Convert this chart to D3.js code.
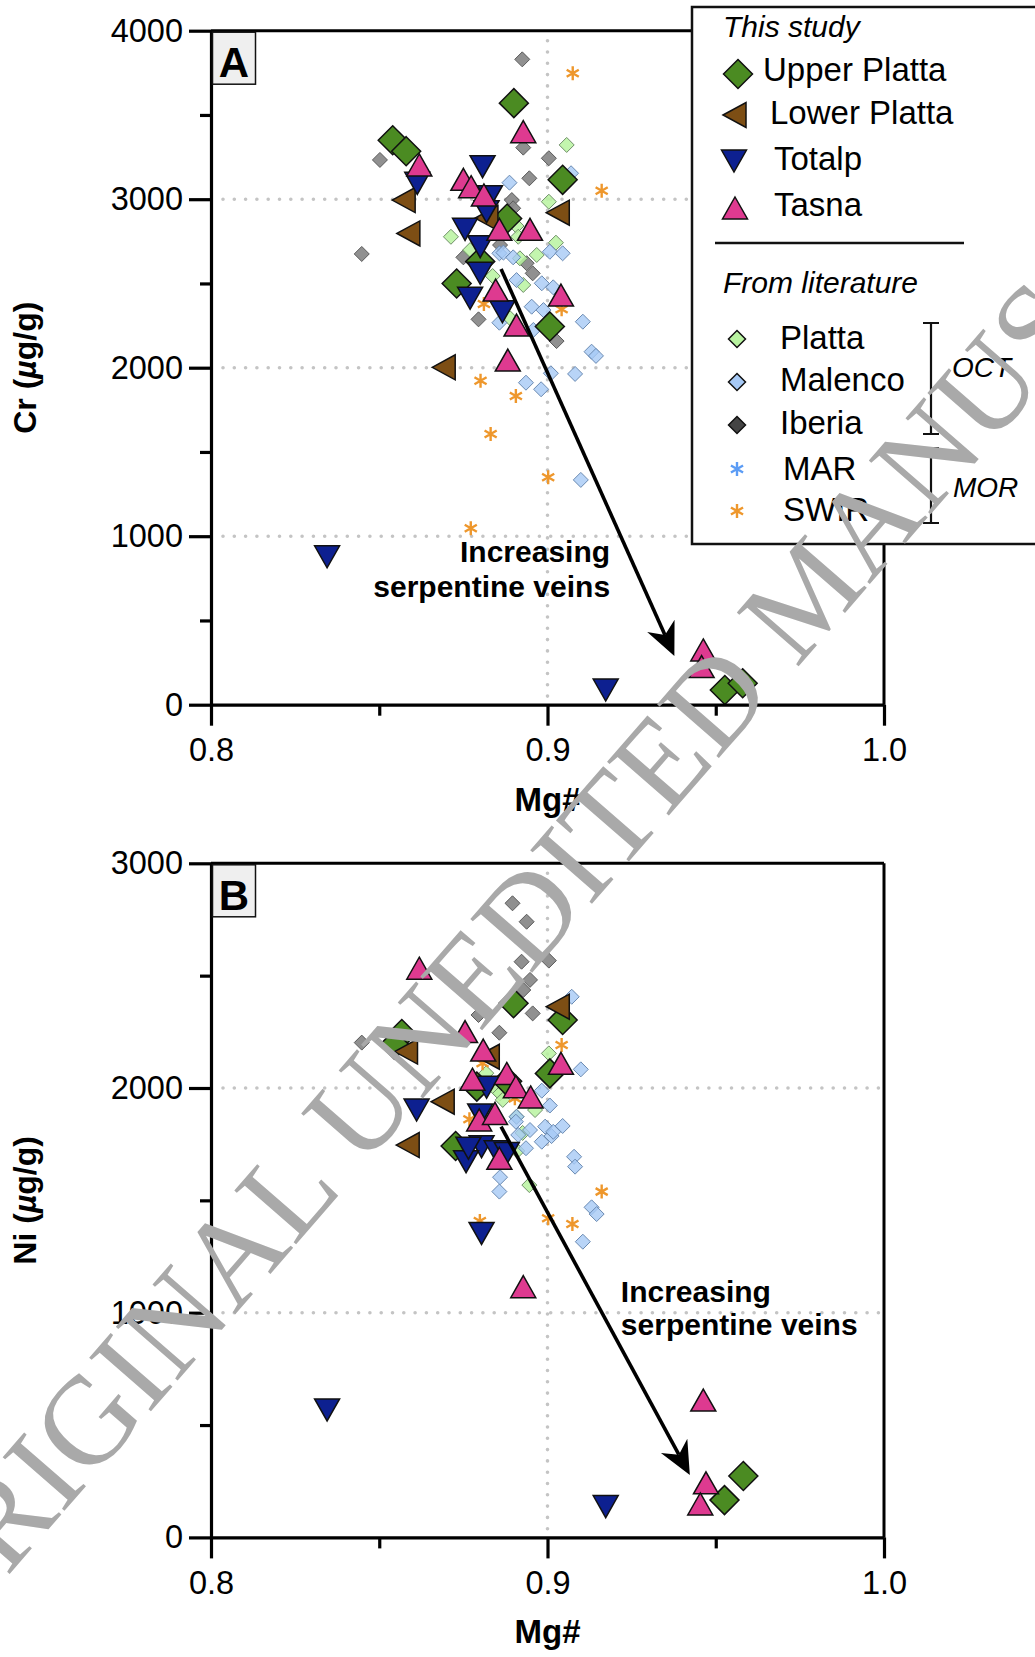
<!DOCTYPE html>
<html><head><meta charset="utf-8">
<script src="https://cdn.jsdelivr.net/npm/d3@7"></script>
<style>
body{margin:0;background:#fff}
svg{display:block}
text{font-family:"Liberation Sans",Arial,Helvetica,sans-serif}
text.wm{font-family:"Liberation Serif","Times New Roman",serif}
</style>
</head><body>
<svg id="c" width="1035" height="1657"></svg>
<script>
// ---------------- DATA ----------------
const mgTicks = [0.8, 0.9, 1.0];
const mgMinor = [0.85, 0.95];
const crTicks = [0, 1000, 2000, 3000, 4000];
const crMinor = [500, 1500, 2500, 3500];
const niTicks = [0, 1000, 2000, 3000];
const niMinor = [500, 1500, 2500];

// Panel A : Cr (µg/g) vs Mg#
const upperPlattaCr = [[0.854,3350],[0.858,3285],[0.890,3570],[0.9045,3115],[0.888,2885],[0.880,2630],[0.873,2500],[0.9007,2245],[0.9527,87],[0.958,127]];
const lowerPlattaCr = [[0.8574,2995],[0.8588,2797],[0.9032,2920],[0.882,2888],[0.8693,2002]];
const totalpCr = [[0.8807,3193],[0.8613,3094],[0.8829,3015],[0.8819,2926],[0.8755,2821],[0.880,2718],[0.880,2560],[0.877,2412],[0.8866,2332],[0.8345,878],[0.9173,87]];
const tasnaCr = [[0.8928,3401],[0.8619,3203],[0.875,3118],[0.8773,3074],[0.8811,3025],[0.8857,2821],[0.8948,2821],[0.8846,2461],[0.904,2431],[0.8908,2253],[0.8882,2045],[0.9463,325],[0.9458,226]];
const plattaCr = [[0.9057,3322],[0.9004,2985],[0.8713,2777],[0.877,2698],[0.8908,2841],[0.9025,2742],[0.8968,2669],[0.8918,2649],[0.8837,2544],[0.8928,2491],[0.8889,2293],[0.8913,2777]];
const malencoCr = [[0.8887,3098],[0.907,3154],[0.9007,2688],[0.9045,2679],[0.8857,2679],[0.8869,2683],[0.8898,2655],[0.8908,2520],[0.8983,2501],[0.9017,2477],[0.8953,2362],[0.8988,2342],[0.8857,2267],[0.8958,2224],[0.9105,2273],[0.9131,2095],[0.9144,2070],[0.901,1967],[0.9082,1963],[0.8936,1911],[0.8981,1872],[0.9099,1334]];
const iberiaCr = [[0.8925,3830],[0.8502,3233],[0.8928,3306],[0.9004,3243],[0.8946,3124],[0.8894,2995],[0.8898,2946],[0.8448,2675],[0.875,2655],[0.8859,2728],[0.8938,2620],[0.8956,2560],[0.8795,2287],[0.9027,2158]];
const marCr = [];
const swirCr = [[0.9075,3747],[0.9161,3050],[0.8811,2378],[0.9042,2347],[0.8801,1923],[0.8906,1832],[0.8831,1607],[0.9002,1350],[0.8772,1047]];
const arrowCr = [[0.8862,2586],[0.9377,289]];

// Panel B : Ni (µg/g) vs Mg#
const upperPlattaNi = [[0.8567,2240],[0.8545,2193],[0.8899,2377],[0.9045,2303],[0.9007,2065],[0.888,2030],[0.879,2006],[0.8727,1742],[0.9526,166],[0.9582,273]];
const lowerPlattaNi = [[0.8581,2162],[0.869,1939],[0.8586,1746],[0.9032,2362],[0.8824,2139]];
const totalpNi = [[0.8611,1902],[0.8819,2003],[0.880,1880],[0.8804,1739],[0.8758,1672],[0.8849,1716],[0.8879,1709],[0.8765,1732],[0.8804,1353],[0.8345,567],[0.9173,137]];
const tasnaNi = [[0.8619,2533],[0.8755,2251],[0.8809,2169],[0.8777,2039],[0.8879,2065],[0.8906,2006],[0.904,2110],[0.895,1960],[0.8797,1858],[0.8844,1887],[0.8857,1687],[0.8928,1116],[0.9463,611],[0.9471,243],[0.9454,149]];
const plattaNi = [[0.9004,2154],[0.8818,2066],[0.8849,1991],[0.8859,1976],[0.8867,1947],[0.8963,1902],[0.8908,1872],[0.8926,1800],[0.8946,1568],[0.891,1720]];
const malencoNi = [[0.9072,2406],[0.9099,2083],[0.8983,1988],[0.9007,1922],[0.8908,1872],[0.8948,1813],[0.8993,1828],[0.9045,1831],[0.8913,1791],[0.8983,1761],[0.9012,1786],[0.8936,1732],[0.9079,1694],[0.9082,1650],[0.8859,1603],[0.8857,1539],[0.9131,1469],[0.9146,1439],[0.9105,1316],[0.8906,1850],[0.9017,1805]];
const iberiaNi = [[0.8896,2822],[0.8938,2740],[0.8923,2562],[0.9004,2567],[0.8948,2481],[0.8928,2436],[0.8956,2332],[0.8795,2325],[0.8857,2246],[0.8448,2202]];
const marNi = [];
const swirNi = [[0.9042,2191],[0.8807,2110],[0.8768,1861],[0.8903,1954],[0.9161,1539],[0.9074,1395],[0.9002,1420],[0.8799,1408]];
const arrowNi = [[0.8862,1828],[0.9423,278]];

const legendStudy = ["Upper Platta","Lower Platta","Totalp","Tasna"];
const legendLit = ["Platta","Malenco","Iberia","MAR","SWIR"];

// ---------------- STYLE / LAYOUT ----------------
const svg = d3.select("#c");
const x = d3.scaleLinear().domain([0.8, 1.0]).range([211, 884]);
const yCr = d3.scaleLinear().domain([0, 4000]).range([704.7, 30.7]);
const yNi = d3.scaleLinear().domain([0, 3000]).range([1537.4, 863.3]);

const diamond = r => `M0,${-r}L${r},0L0,${r}L${-r},0Z`;
const triUp = `M0,-11L12.5,11L-12.5,11Z`;
const triDown = `M-12.5,-11L12.5,-11L0,11Z`;
const triLeft = `M-12,0L11,-12.5L11,12.5Z`;
const aster = r => { const a = r*Math.cos(Math.PI/6), b = r/2;
  return `M0,${-r}L0,${r}M${-a},${-b}L${a},${b}M${-a},${b}L${a},${-b}`; };

const st = {
  up:  {d: diamond(14.5), fill:"#4b8b22", stroke:"#111", sw:1.5},
  lp:  {d: triLeft, fill:"#7d4e14", stroke:"#111", sw:1.5},
  to:  {d: triDown, fill:"#0d2090", stroke:"#111", sw:1.5},
  ta:  {d: triUp, fill:"#de3a90", stroke:"#111", sw:1.5},
  pl:  {d: diamond(7.5), fill:"#b8f3a0", stroke:"#6f8f68", sw:1, op:0.85},
  ma:  {d: diamond(7.5), fill:"#a6c9f5", stroke:"#6a8ab2", sw:1, op:0.8},
  ib:  {d: diamond(7.5), fill:"#8a8a8a", stroke:"#5a5a5a", sw:1, op:0.95},
  mar: {d: aster(7), fill:"none", stroke:"#5b9cf5", sw:2.4},
  sw:  {d: aster(7), fill:"none", stroke:"#ee972c", sw:2.4}
};

function marks(g, data, s, y) {
  g.append("g").selectAll("path").data(data).join("path")
    .attr("d", s.d)
    .attr("transform", d => `translate(${x(d[0])},${y(d[1])})`)
    .attr("fill", s.fill)
    .attr("fill-opacity", s.op || 1)
    .attr("stroke", s.stroke)
    .attr("stroke-width", s.sw);
}

function dotted(g, x1, y1, x2, y2) {
  g.append("line").attr("x1", x1).attr("y1", y1).attr("x2", x2).attr("y2", y2)
    .attr("stroke", "#c4c4c4").attr("stroke-width", 3.6)
    .attr("stroke-linecap", "round").attr("stroke-dasharray", "0 11.3");
}

function panel(opt) {
  const y = opt.y, g = svg.append("g");
  const top = y.range()[1], bot = y.range()[0];
  opt.grid.forEach(v => dotted(g, x(0.8) + 12, y(v), x(1.0), y(v)));
  dotted(g, x(0.9), top + 10, x(0.9), bot - 8);
  marks(g, opt.ib, st.ib, y);
  marks(g, opt.pl, st.pl, y);
  marks(g, opt.ma, st.ma, y);
  marks(g, opt.mar, st.mar, y);
  marks(g, opt.sw, st.sw, y);
  marks(g, opt.up, st.up, y);
  marks(g, opt.lp, st.lp, y);
  marks(g, opt.to, st.to, y);
  marks(g, opt.ta, st.ta, y);
  // arrow
  const p0 = [x(opt.arrow[0][0]), y(opt.arrow[0][1])];
  const p1 = [x(opt.arrow[1][0]), y(opt.arrow[1][1])];
  const dx = p1[0]-p0[0], dy = p1[1]-p0[1], L = Math.hypot(dx, dy);
  const ux = dx/L, uy = dy/L, nx = -uy, ny = ux;
  const back = 33, wid = 15, inner = 23;
  const pi = [p1[0]-ux*inner, p1[1]-uy*inner];
  g.append("line").attr("x1", p0[0]).attr("y1", p0[1]).attr("x2", pi[0]).attr("y2", pi[1])
    .attr("stroke", "#000").attr("stroke-width", 3.6);
  g.append("path").attr("d",
    `M${p1[0]},${p1[1]}L${p1[0]-ux*back+nx*wid},${p1[1]-uy*back+ny*wid}L${pi[0]},${pi[1]}L${p1[0]-ux*back-nx*wid},${p1[1]-uy*back-ny*wid}Z`)
    .attr("fill", "#000");
  const t = g.append("text").attr("font-size", 30).attr("font-weight", "bold")
    .attr("text-anchor", opt.ann.anchor);
  t.append("tspan").attr("x", x(opt.ann.x)).attr("y", y(opt.ann.y1)).text("Increasing");
  t.append("tspan").attr("x", x(opt.ann.x)).attr("y", y(opt.ann.y2)).text("serpentine veins");
  // frame
  g.append("line").attr("x1", x(0.8)).attr("x2", x(1.0)).attr("y1", top).attr("y2", top)
    .attr("stroke", "#000").attr("stroke-width", 3);
  g.append("line").attr("x1", x(1.0)).attr("x2", x(1.0)).attr("y1", top).attr("y2", bot)
    .attr("stroke", "#000").attr("stroke-width", 3);
  // axes
  const ax = g.append("g").attr("transform", `translate(${x(0.8)},0)`)
    .call(d3.axisLeft(y).tickValues(opt.ticks).tickSize(22).tickSizeOuter(0).tickPadding(6).tickFormat(d3.format("d")));
  const axm = g.append("g").attr("transform", `translate(${x(0.8)},0)`)
    .call(d3.axisLeft(y).tickValues(opt.minor).tickSize(11).tickSizeOuter(0).tickFormat(""));
  const bx = g.append("g").attr("transform", `translate(0,${bot})`)
    .call(d3.axisBottom(x).tickValues(mgTicks).tickSize(21).tickSizeOuter(0).tickPadding(12.5).tickFormat(d3.format(".1f")));
  const bxm = g.append("g").attr("transform", `translate(0,${bot})`)
    .call(d3.axisBottom(x).tickValues(mgMinor).tickSize(11).tickSizeOuter(0).tickFormat(""));
  [ax, axm, bx, bxm].forEach(a => {
    a.selectAll("path.domain").attr("stroke", "#000").attr("stroke-width", 3.2);
    a.selectAll(".tick line").attr("stroke", "#000").attr("stroke-width", 3.2);
    a.selectAll("text").attr("font-size", 32.5).attr("fill", "#000");
  });
  axm.select("path.domain").remove(); bxm.select("path.domain").remove();
  g.append("text").attr("transform", `translate(36,${(top+bot)/2}) rotate(-90)`)
    .attr("text-anchor", "middle").attr("font-size", 32).attr("font-weight", "bold")
    .call(s => { s.append("tspan").text(opt.elem + " (");
                 s.append("tspan").attr("font-style", "italic").text("µ");
                 s.append("tspan").text("g/g)"); });
  g.append("text").attr("x", x(0.9)).attr("y", bot + opt.mgOff)
    .attr("text-anchor", "middle").attr("font-size", 33).attr("font-weight", "bold").text("Mg#");
  g.append("rect").attr("x", 212.5).attr("y", top + 1.5).attr("width", 43).attr("height", 52)
    .attr("fill", "#efefef").attr("stroke", "#111").attr("stroke-width", 1.5);
  g.append("text").attr("x", 234).attr("y", top + 46.5).attr("text-anchor", "middle")
    .attr("font-size", 42).attr("font-weight", "bold").text(opt.letter);
}

panel({y: yCr, ticks: crTicks, minor: crMinor, grid: [1000, 2000, 3000], elem: "Cr", letter: "A", mgOff: 106,
  up: upperPlattaCr, lp: lowerPlattaCr, to: totalpCr, ta: tasnaCr,
  pl: plattaCr, ma: malencoCr, ib: iberiaCr, mar: marCr, sw: swirCr, arrow: arrowCr,
  ann: {anchor: "end", x: 0.9186, y1: 849, y2: 641}});
panel({y: yNi, ticks: niTicks, minor: niMinor, grid: [1000, 2000], elem: "Ni", letter: "B", mgOff: 106,
  up: upperPlattaNi, lp: lowerPlattaNi, to: totalpNi, ta: tasnaNi,
  pl: plattaNi, ma: malencoNi, ib: iberiaNi, mar: marNi, sw: swirNi, arrow: arrowNi,
  ann: {anchor: "start", x: 0.9218, y1: 1049, y2: 901}});

// ---------------- LEGEND ----------------
const lg = svg.append("g");
lg.append("rect").attr("x", 692).attr("y", 7).attr("width", 360).attr("height", 537)
  .attr("fill", "#fff").attr("stroke", "#111").attr("stroke-width", 2.5);
lg.append("text").attr("x", 723).attr("y", 37).attr("font-size", 30).attr("font-style", "italic").text("This study");
const studyRows = [
  {s: st.up, mx: 738, my: 74, tx: 763, ty: 81},
  {s: st.lp, mx: 735, my: 115, tx: 770, ty: 124},
  {s: st.to, mx: 734, my: 161, tx: 774, ty: 170},
  {s: st.ta, mx: 735, my: 208, tx: 774, ty: 216}
];
studyRows.forEach((r, i) => {
  lg.append("path").attr("d", r.s.d).attr("transform", `translate(${r.mx},${r.my})`)
    .attr("fill", r.s.fill).attr("stroke", "#111").attr("stroke-width", 1.5);
  lg.append("text").attr("x", r.tx).attr("y", r.ty).attr("font-size", 33).text(legendStudy[i]);
});
lg.append("line").attr("x1", 715).attr("x2", 964).attr("y1", 243).attr("y2", 243)
  .attr("stroke", "#111").attr("stroke-width", 2.5);
lg.append("text").attr("x", 723).attr("y", 293).attr("font-size", 30).attr("font-style", "italic").text("From literature");
const litRows = [
  {d: diamond(8.5), fill: "#b8f3a0", stroke: "#111", sw: 1.5, my: 339, ty: 349, tx: 780},
  {d: diamond(8.5), fill: "#a6c9f5", stroke: "#111", sw: 1.5, my: 382, ty: 391, tx: 780},
  {d: diamond(8.5), fill: "#444", stroke: "#111", sw: 1.5, my: 425, ty: 434, tx: 780},
  {d: aster(7), fill: "none", stroke: "#5b9cf5", sw: 2.4, my: 469, ty: 480, tx: 783},
  {d: aster(7), fill: "none", stroke: "#ee972c", sw: 2.4, my: 511, ty: 521, tx: 783}
];
litRows.forEach((r, i) => {
  lg.append("path").attr("d", r.d).attr("transform", `translate(737,${r.my})`)
    .attr("fill", r.fill).attr("stroke", r.stroke).attr("stroke-width", r.sw);
  lg.append("text").attr("x", r.tx).attr("y", r.ty).attr("font-size", 33).text(legendLit[i]);
});
function bracket(y1, y2) {
  lg.append("path").attr("d", `M923,${y1}H939M931,${y1}V${y2}M923,${y2}H939`)
    .attr("stroke", "#111").attr("stroke-width", 2.2).attr("fill", "none");
}
bracket(323, 434);
bracket(448, 523);
lg.append("text").attr("x", 952).attr("y", 377).attr("font-size", 28).attr("font-style", "italic").text("OCT");
lg.append("text").attr("x", 953).attr("y", 497).attr("font-size", 28).attr("font-style", "italic").text("MOR");

// ---------------- WATERMARK ----------------
svg.append("text").attr("class", "wm").attr("transform", "translate(605,826) rotate(-49)")
  .attr("text-anchor", "middle").attr("dy", "0.33em")
  .attr("font-size", 125).attr("fill", "#a9a9a9")
  .text("ORIGINAL UNEDITED MANUSCRIPT");
</script>
</body></html>
